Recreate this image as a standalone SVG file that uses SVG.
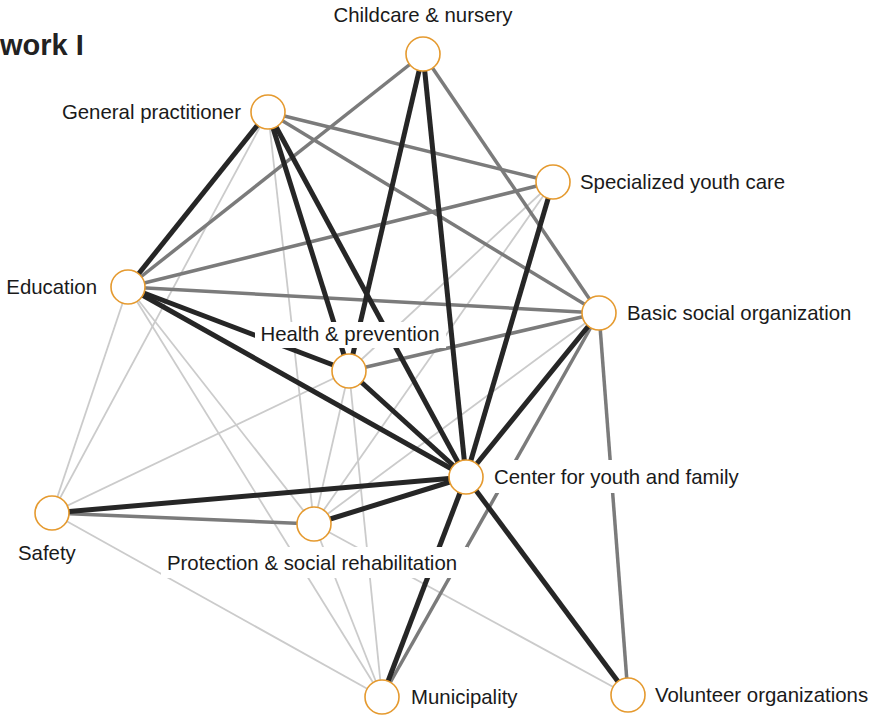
<svg xmlns="http://www.w3.org/2000/svg" width="875" height="718" viewBox="0 0 875 718">
<style>
.weak{stroke:#cbcbcb;stroke-width:1.8;fill:none}
.mid{stroke:#7b7b7b;stroke-width:3.5;fill:none}
.strong{stroke:#262626;stroke-width:5;fill:none}
.node circle{fill:#fff;stroke:#E59A2F;stroke-width:1.6}
.lbl{font-family:"Liberation Sans",Arial,sans-serif;font-size:20.4px;fill:#1a1a1a}
.bg{fill:#fff}
.title{font-family:"Liberation Sans",Arial,sans-serif;font-size:29px;font-weight:bold;fill:#222}
</style>
<rect width="875" height="718" fill="#fff"/>
<text class="title" x="0" y="55">work I</text>
<g id="connectors">
<g id="weak-ties">
<line class="weak" x1="268" y1="112" x2="52" y2="513"/>
<line class="weak" x1="268" y1="112" x2="314" y2="524"/>
<line class="weak" x1="128" y1="287" x2="52" y2="513"/>
<line class="weak" x1="128" y1="287" x2="314" y2="524"/>
<line class="weak" x1="128" y1="287" x2="382" y2="697"/>
<line class="weak" x1="52" y1="513" x2="349" y2="371"/>
<line class="weak" x1="52" y1="513" x2="382" y2="697"/>
<line class="weak" x1="349" y1="371" x2="314" y2="524"/>
<line class="weak" x1="349" y1="371" x2="382" y2="697"/>
<line class="weak" x1="553" y1="182" x2="349" y2="371"/>
<line class="weak" x1="553" y1="182" x2="314" y2="524"/>
<line class="weak" x1="599" y1="313" x2="314" y2="524"/>
<line class="weak" x1="314" y1="524" x2="382" y2="697"/>
<line class="weak" x1="314" y1="524" x2="628" y2="695"/>
</g>
<g id="medium-ties">
<line class="mid" x1="423" y1="54" x2="128" y2="287"/>
<line class="mid" x1="423" y1="54" x2="599" y2="313"/>
<line class="mid" x1="268" y1="112" x2="553" y2="182"/>
<line class="mid" x1="268" y1="112" x2="599" y2="313"/>
<line class="mid" x1="553" y1="182" x2="128" y2="287"/>
<line class="mid" x1="128" y1="287" x2="599" y2="313"/>
<line class="mid" x1="349" y1="371" x2="599" y2="313"/>
<line class="mid" x1="52" y1="513" x2="314" y2="524"/>
<line class="mid" x1="599" y1="313" x2="628" y2="695"/>
<line class="mid" x1="599" y1="313" x2="382" y2="697"/>
</g>
<g id="strong-ties">
<line class="strong" x1="268" y1="112" x2="128" y2="287"/>
<line class="strong" x1="268" y1="112" x2="349" y2="371"/>
<line class="strong" x1="268" y1="112" x2="466" y2="477"/>
<line class="strong" x1="423" y1="54" x2="349" y2="371"/>
<line class="strong" x1="423" y1="54" x2="466" y2="477"/>
<line class="strong" x1="128" y1="287" x2="349" y2="371"/>
<line class="strong" x1="128" y1="287" x2="466" y2="477"/>
<line class="strong" x1="349" y1="371" x2="466" y2="477"/>
<line class="strong" x1="553" y1="182" x2="466" y2="477"/>
<line class="strong" x1="599" y1="313" x2="466" y2="477"/>
<line class="strong" x1="52" y1="513" x2="466" y2="477"/>
<line class="strong" x1="314" y1="524" x2="466" y2="477"/>
<line class="strong" x1="466" y1="477" x2="382" y2="697"/>
<line class="strong" x1="466" y1="477" x2="628" y2="695"/>
</g>
</g>
<g id="childcare" class="node">
<circle cx="423" cy="54" r="17"/>
<text class="lbl" x="423" y="22" text-anchor="middle">Childcare &amp; nursery</text>
</g>
<g id="general-practitioner" class="node">
<circle cx="268" cy="112" r="17"/>
<text class="lbl" x="241" y="119" text-anchor="end">General practitioner</text>
</g>
<g id="specialized-youth-care" class="node">
<circle cx="553" cy="182" r="17"/>
<text class="lbl" x="580" y="189">Specialized youth care</text>
</g>
<g id="education" class="node">
<circle cx="128" cy="287" r="17"/>
<text class="lbl" x="97" y="294" text-anchor="end">Education</text>
</g>
<g id="basic-social-organization" class="node">
<circle cx="599" cy="313" r="17"/>
<text class="lbl" x="627" y="320">Basic social organization</text>
</g>
<g id="health-prevention" class="node">
<rect class="bg" x="255" y="322" width="191" height="26"/>
<text class="lbl" x="350" y="341" text-anchor="middle">Health &amp; prevention</text>
<circle cx="349" cy="371" r="17"/>
</g>
<g id="center-youth-family" class="node">
<rect class="bg" x="489" y="460" width="262" height="33"/>
<text class="lbl" x="494" y="484">Center for youth and family</text>
<circle cx="466" cy="477" r="17"/>
</g>
<g id="safety" class="node">
<circle cx="52" cy="513" r="17"/>
<text class="lbl" x="18" y="560">Safety</text>
</g>
<g id="protection" class="node">
<rect class="bg" x="161" y="547" width="307" height="31"/>
<text class="lbl" x="312" y="570" text-anchor="middle">Protection &amp; social rehabilitation</text>
<circle cx="314" cy="524" r="17"/>
</g>
<g id="municipality" class="node">
<circle cx="382" cy="697" r="17"/>
<text class="lbl" x="411" y="704">Municipality</text>
</g>
<g id="volunteer-organizations" class="node">
<circle cx="628" cy="695" r="17"/>
<text class="lbl" x="655" y="702">Volunteer organizations</text>
</g>
</svg>
